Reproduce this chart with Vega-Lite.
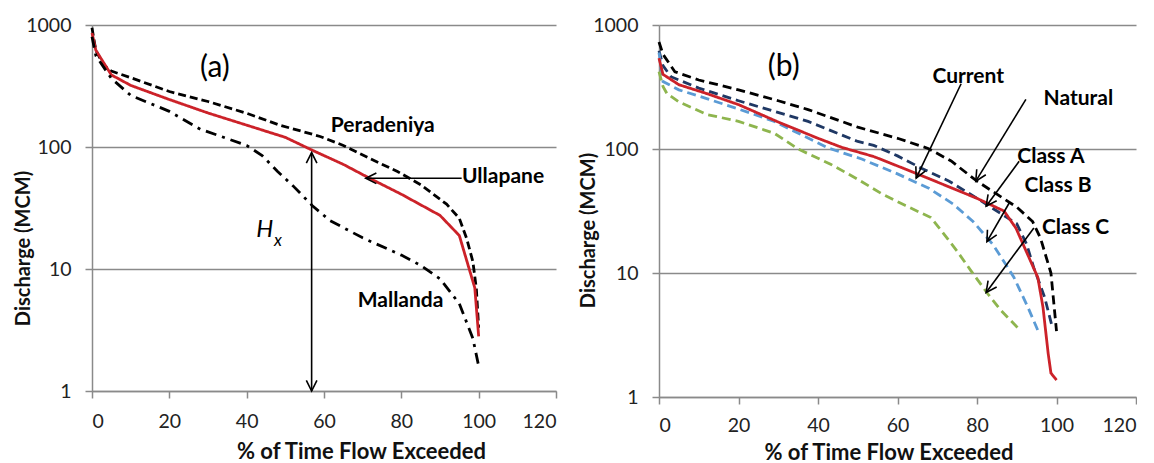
{
  "$schema": "https://vega.github.io/schema/vega-lite/v6.json",
  "padding": {"left": 13, "top": 15, "right": 0, "bottom": 0},
  "config": {
    "font": "Lato",
    "view": {"stroke": null},
    "concat": {"spacing": 21},
    "axis": {
      "domainColor": "#8a8a8a", "domainWidth": 1.5,
      "tickColor": "#8a8a8a", "tickWidth": 1.5, "tickSize": 7,
      "labelFont": "Lato", "labelFontSize": 19.5, "labelColor": "#222222", "labelPadding": 14,
      "titleFont": "Lato", "titleFontSize": 20, "titleFontWeight": "bold", "titleColor": "#111111"
    },
    "axisX": {"grid": false, "titleFontSize": 22},
    "axisY": {"grid": true, "gridColor": "#8a8a8a", "gridWidth": 1.5}
  },
  "resolve": {"scale": {"x": "independent", "y": "independent", "color": "independent", "strokeDash": "independent"}},
  "datasets": {
    "a_lines": [
      {"site": "Peradeniya", "pct": 0, "q": 950}, {"site": "Peradeniya", "pct": 0.5, "q": 760}, {"site": "Peradeniya", "pct": 1, "q": 620},
      {"site": "Peradeniya", "pct": 3, "q": 470}, {"site": "Peradeniya", "pct": 5, "q": 419}, {"site": "Peradeniya", "pct": 10, "q": 370},
      {"site": "Peradeniya", "pct": 20, "q": 285}, {"site": "Peradeniya", "pct": 30, "q": 236}, {"site": "Peradeniya", "pct": 40, "q": 189},
      {"site": "Peradeniya", "pct": 48.6, "q": 151}, {"site": "Peradeniya", "pct": 59, "q": 122}, {"site": "Peradeniya", "pct": 65, "q": 103},
      {"site": "Peradeniya", "pct": 72, "q": 80}, {"site": "Peradeniya", "pct": 79, "q": 63}, {"site": "Peradeniya", "pct": 85, "q": 49},
      {"site": "Peradeniya", "pct": 91.7, "q": 34}, {"site": "Peradeniya", "pct": 95, "q": 26}, {"site": "Peradeniya", "pct": 96.9, "q": 17.8},
      {"site": "Peradeniya", "pct": 98.5, "q": 11.5}, {"site": "Peradeniya", "pct": 99.4, "q": 6.9}, {"site": "Peradeniya", "pct": 100, "q": 3.3},
      {"site": "Ullapane", "pct": 0, "q": 860}, {"site": "Ullapane", "pct": 1, "q": 620}, {"site": "Ullapane", "pct": 5, "q": 390},
      {"site": "Ullapane", "pct": 10, "q": 320}, {"site": "Ullapane", "pct": 20, "q": 245}, {"site": "Ullapane", "pct": 30, "q": 190},
      {"site": "Ullapane", "pct": 40, "q": 151}, {"site": "Ullapane", "pct": 50, "q": 120}, {"site": "Ullapane", "pct": 57, "q": 94},
      {"site": "Ullapane", "pct": 65, "q": 72}, {"site": "Ullapane", "pct": 72, "q": 55}, {"site": "Ullapane", "pct": 80, "q": 41},
      {"site": "Ullapane", "pct": 90, "q": 27.5}, {"site": "Ullapane", "pct": 95, "q": 18.8}, {"site": "Ullapane", "pct": 99, "q": 7},
      {"site": "Ullapane", "pct": 100, "q": 2.8},
      {"site": "Mallanda", "pct": 0, "q": 800}, {"site": "Mallanda", "pct": 1, "q": 560}, {"site": "Mallanda", "pct": 5, "q": 365},
      {"site": "Mallanda", "pct": 10, "q": 265}, {"site": "Mallanda", "pct": 20, "q": 196}, {"site": "Mallanda", "pct": 28, "q": 140},
      {"site": "Mallanda", "pct": 40, "q": 103}, {"site": "Mallanda", "pct": 44, "q": 85}, {"site": "Mallanda", "pct": 48, "q": 63},
      {"site": "Mallanda", "pct": 52, "q": 48}, {"site": "Mallanda", "pct": 57, "q": 33}, {"site": "Mallanda", "pct": 61.5, "q": 25},
      {"site": "Mallanda", "pct": 70, "q": 18}, {"site": "Mallanda", "pct": 80, "q": 13}, {"site": "Mallanda", "pct": 85, "q": 10.7},
      {"site": "Mallanda", "pct": 90, "q": 8.3}, {"site": "Mallanda", "pct": 95, "q": 5.2}, {"site": "Mallanda", "pct": 98.5, "q": 2.7},
      {"site": "Mallanda", "pct": 100, "q": 1.6}
    ],
    "a_text": [
      {"kind": "name", "label": "Peradeniya", "pct": 75.2, "q": 148},
      {"kind": "name", "label": "Ullapane", "pct": 106.3, "q": 56.4},
      {"kind": "name", "label": "Mallanda", "pct": 79.8, "q": 5.5},
      {"kind": "tag", "label": "(a)", "pct": 31.8, "q": 444},
      {"kind": "H", "label": "H", "pct": 44.7, "q": 20.7},
      {"kind": "sub", "label": "x", "pct": 48.1, "q": 17.1}
    ],
    "a_rules": [
      {"name": "Ullapane", "pct": 70.8, "q": 55.4, "pct2": 95.6, "q2": 55.4},
      {"name": "Hx", "pct": 56.8, "q": 90, "pct2": 56.8, "q2": 1}
    ],
    "a_heads": [
      {"name": "Ullapane", "pct": 70.8, "q": 55.4},
      {"name": "Hx top", "pct": 56.8, "q": 90},
      {"name": "Hx bottom", "pct": 56.8, "q": 1}
    ],
    "b_lines": [
      {"scenario": "Natural", "pct": 0, "q": 730}, {"scenario": "Natural", "pct": 1, "q": 580}, {"scenario": "Natural", "pct": 4, "q": 420},
      {"scenario": "Natural", "pct": 10, "q": 360}, {"scenario": "Natural", "pct": 20, "q": 300}, {"scenario": "Natural", "pct": 30, "q": 245},
      {"scenario": "Natural", "pct": 37.5, "q": 208}, {"scenario": "Natural", "pct": 50, "q": 150}, {"scenario": "Natural", "pct": 60, "q": 122},
      {"scenario": "Natural", "pct": 67.7, "q": 101}, {"scenario": "Natural", "pct": 73.5, "q": 80}, {"scenario": "Natural", "pct": 80, "q": 55},
      {"scenario": "Natural", "pct": 90, "q": 34}, {"scenario": "Natural", "pct": 94, "q": 26}, {"scenario": "Natural", "pct": 96, "q": 19},
      {"scenario": "Natural", "pct": 98.6, "q": 10}, {"scenario": "Natural", "pct": 100, "q": 3.4},
      {"scenario": "Class A", "pct": 0, "q": 620}, {"scenario": "Class A", "pct": 1, "q": 470}, {"scenario": "Class A", "pct": 3, "q": 383},
      {"scenario": "Class A", "pct": 10, "q": 310}, {"scenario": "Class A", "pct": 20, "q": 245}, {"scenario": "Class A", "pct": 37.5, "q": 167},
      {"scenario": "Class A", "pct": 50, "q": 115}, {"scenario": "Class A", "pct": 54, "q": 107}, {"scenario": "Class A", "pct": 60, "q": 88},
      {"scenario": "Class A", "pct": 66, "q": 70}, {"scenario": "Class A", "pct": 73, "q": 55}, {"scenario": "Class A", "pct": 80, "q": 40},
      {"scenario": "Class A", "pct": 90, "q": 25}, {"scenario": "Class A", "pct": 92.5, "q": 17}, {"scenario": "Class A", "pct": 94.3, "q": 11},
      {"scenario": "Class A", "pct": 97, "q": 6.4}, {"scenario": "Class A", "pct": 99, "q": 3.6},
      {"scenario": "Class B", "pct": 0, "q": 600}, {"scenario": "Class B", "pct": 1, "q": 350}, {"scenario": "Class B", "pct": 5, "q": 300},
      {"scenario": "Class B", "pct": 12, "q": 255}, {"scenario": "Class B", "pct": 20, "q": 210}, {"scenario": "Class B", "pct": 29, "q": 167},
      {"scenario": "Class B", "pct": 42.5, "q": 102}, {"scenario": "Class B", "pct": 51, "q": 83}, {"scenario": "Class B", "pct": 60, "q": 63},
      {"scenario": "Class B", "pct": 68, "q": 48}, {"scenario": "Class B", "pct": 74, "q": 36}, {"scenario": "Class B", "pct": 79, "q": 26},
      {"scenario": "Class B", "pct": 84, "q": 17}, {"scenario": "Class B", "pct": 87.8, "q": 11}, {"scenario": "Class B", "pct": 89.3, "q": 9.2},
      {"scenario": "Class B", "pct": 92.8, "q": 5.3}, {"scenario": "Class B", "pct": 95.3, "q": 3.45},
      {"scenario": "Class C", "pct": 0, "q": 420}, {"scenario": "Class C", "pct": 1, "q": 320}, {"scenario": "Class C", "pct": 2, "q": 280},
      {"scenario": "Class C", "pct": 5, "q": 240}, {"scenario": "Class C", "pct": 12, "q": 190}, {"scenario": "Class C", "pct": 20, "q": 167},
      {"scenario": "Class C", "pct": 29, "q": 134}, {"scenario": "Class C", "pct": 35, "q": 100}, {"scenario": "Class C", "pct": 43.3, "q": 75},
      {"scenario": "Class C", "pct": 50, "q": 57}, {"scenario": "Class C", "pct": 55.8, "q": 44}, {"scenario": "Class C", "pct": 62, "q": 35},
      {"scenario": "Class C", "pct": 68.4, "q": 28}, {"scenario": "Class C", "pct": 71, "q": 22}, {"scenario": "Class C", "pct": 75, "q": 15},
      {"scenario": "Class C", "pct": 78.5, "q": 10.4}, {"scenario": "Class C", "pct": 82.7, "q": 6.8}, {"scenario": "Class C", "pct": 86, "q": 5},
      {"scenario": "Class C", "pct": 90.3, "q": 3.6},
      {"scenario": "Current", "pct": 0, "q": 540}, {"scenario": "Current", "pct": 1, "q": 400}, {"scenario": "Current", "pct": 5, "q": 330},
      {"scenario": "Current", "pct": 12, "q": 280}, {"scenario": "Current", "pct": 20, "q": 228}, {"scenario": "Current", "pct": 30, "q": 165},
      {"scenario": "Current", "pct": 40, "q": 122}, {"scenario": "Current", "pct": 46, "q": 103}, {"scenario": "Current", "pct": 54, "q": 87},
      {"scenario": "Current", "pct": 65, "q": 63}, {"scenario": "Current", "pct": 80, "q": 40}, {"scenario": "Current", "pct": 86.8, "q": 31.6},
      {"scenario": "Current", "pct": 89.8, "q": 23}, {"scenario": "Current", "pct": 95.3, "q": 9.2}, {"scenario": "Current", "pct": 96.6, "q": 5.3},
      {"scenario": "Current", "pct": 97.9, "q": 2.25}, {"scenario": "Current", "pct": 98.6, "q": 1.56}, {"scenario": "Current", "pct": 100, "q": 1.37}
    ],
    "b_text": [
      {"kind": "tag", "label": "(b)", "pct": 31.4, "q": 460},
      {"kind": "name", "label": "Current", "pct": 77.8, "q": 383},
      {"kind": "name", "label": "Natural", "pct": 105.5, "q": 255},
      {"kind": "name", "label": "Class A", "pct": 98.6, "q": 85.8},
      {"kind": "name", "label": "Class B", "pct": 100.4, "q": 50.2},
      {"kind": "name", "label": "Class C", "pct": 104.8, "q": 23.1}
    ],
    "b_rules": [
      {"name": "Current", "pct": 64.7, "q": 58.2, "pct2": 76.0, "q2": 336},
      {"name": "Natural", "pct": 79.7, "q": 55.1, "pct2": 92.3, "q2": 251},
      {"name": "Class A", "pct": 82.3, "q": 34.6, "pct2": 90.6, "q2": 79.6},
      {"name": "Class B", "pct": 82.5, "q": 17.9, "pct2": 88.1, "q2": 36.7},
      {"name": "Class C", "pct": 82.3, "q": 6.97, "pct2": 94.3, "q2": 23.1}
    ]
  },
  "hconcat": [
    {
      "width": 464,
      "height": 366,
      "encoding": {
        "x": {"field": "pct", "type": "quantitative", "scale": {"domain": [0, 120], "nice": false},
              "axis": {"values": [0, 20, 40, 60, 80, 100, 120], "title": "% of Time Flow Exceeded", "titleX": 269, "titleY": 60, "titleBaseline": "middle"}},
        "y": {"field": "q", "type": "quantitative", "scale": {"type": "log", "domain": [1, 1000], "nice": false},
              "axis": {"values": [1, 10, 100, 1000], "format": "d", "title": "Discharge (MCM)", "titleX": -69, "titleY": 223, "titleBaseline": "middle"}}
      },
      "layer": [
        {
          "data": {"name": "a_lines"},
          "mark": {"type": "line", "strokeWidth": 2.8},
          "encoding": {
            "color": {"field": "site", "type": "nominal", "legend": null,
                      "scale": {"domain": ["Peradeniya", "Ullapane", "Mallanda"], "range": ["#000000", "#CC2229", "#000000"]}},
            "strokeDash": {"field": "site", "type": "nominal", "legend": null,
                      "scale": {"domain": ["Peradeniya", "Ullapane", "Mallanda"], "range": [[8, 4], [1, 0], [11, 6, 3, 6]]}}
          }
        },
        {
          "data": {"name": "a_rules"},
          "mark": {"type": "rule", "color": "#000000", "strokeWidth": 1.6},
          "encoding": {"x2": {"field": "pct2"}, "y2": {"field": "q2"}}
        },
        {
          "data": {"name": "a_heads"},
          "transform": [{"filter": "datum.name === 'Ullapane'"}],
          "mark": {"type": "point", "shape": "M-0.5,1L0,0L0.5,1", "filled": false, "size": 450, "strokeWidth": 1.6, "color": "#000000", "opacity": 1, "angle": 270},
          "encoding": {}
        },
        {
          "data": {"name": "a_heads"},
          "transform": [{"filter": "datum.name === 'Hx top'"}],
          "mark": {"type": "point", "shape": "M-0.5,1L0,0L0.5,1", "filled": false, "size": 450, "strokeWidth": 1.6, "color": "#000000", "opacity": 1, "angle": 0},
          "encoding": {}
        },
        {
          "data": {"name": "a_heads"},
          "transform": [{"filter": "datum.name === 'Hx bottom'"}],
          "mark": {"type": "point", "shape": "M-0.5,1L0,0L0.5,1", "filled": false, "size": 450, "strokeWidth": 1.6, "color": "#000000", "opacity": 1, "angle": 180},
          "encoding": {}
        },
        {
          "data": {"name": "a_text"},
          "transform": [{"filter": "datum.kind === 'name'"}],
          "mark": {"type": "text", "font": "Lato", "fontWeight": "bold", "fontSize": 21, "align": "center", "baseline": "middle", "color": "#000000"},
          "encoding": {"text": {"field": "label"}}
        },
        {
          "data": {"name": "a_text"},
          "transform": [{"filter": "datum.kind === 'tag'"}],
          "mark": {"type": "text", "font": "Lato", "fontSize": 30, "align": "center", "baseline": "middle", "color": "#000000"},
          "encoding": {"text": {"field": "label"}}
        },
        {
          "data": {"name": "a_text"},
          "transform": [{"filter": "datum.kind === 'H'"}],
          "mark": {"type": "text", "font": "Lato", "fontStyle": "italic", "fontSize": 24, "align": "center", "baseline": "middle", "color": "#000000"},
          "encoding": {"text": {"field": "label"}}
        },
        {
          "data": {"name": "a_text"},
          "transform": [{"filter": "datum.kind === 'sub'"}],
          "mark": {"type": "text", "font": "Lato", "fontStyle": "italic", "fontSize": 17, "align": "center", "baseline": "middle", "color": "#000000"},
          "encoding": {"text": {"field": "label"}}
        }
      ]
    },
    {
      "width": 477,
      "height": 372,
      "encoding": {
        "x": {"field": "pct", "type": "quantitative", "scale": {"domain": [0, 120], "nice": false},
              "axis": {"values": [0, 20, 40, 60, 80, 100, 120], "labelPadding": 12, "title": "% of Time Flow Exceeded", "titleX": 229.5, "titleY": 55, "titleBaseline": "middle"}},
        "y": {"field": "q", "type": "quantitative", "scale": {"type": "log", "domain": [1, 1000], "nice": false},
              "axis": {"values": [1, 10, 100, 1000], "format": "d", "title": "Discharge (MCM)", "titleX": -71, "titleY": 205, "titleBaseline": "middle"}}
      },
      "layer": [
        {
          "data": {"name": "b_lines"},
          "mark": {"type": "line", "strokeWidth": 2.8},
          "encoding": {
            "color": {"field": "scenario", "type": "nominal", "legend": null,
                      "scale": {"domain": ["Natural", "Class A", "Class B", "Class C", "Current"], "range": ["#000000", "#1F3864", "#5B9BD5", "#8EB54E", "#CC2229"]}},
            "strokeDash": {"field": "scenario", "type": "nominal", "legend": null,
                      "scale": {"domain": ["Natural", "Class A", "Class B", "Class C", "Current"], "range": [[9, 5], [9, 5], [9, 5], [9, 5], [1, 0]]}}
          }
        },
        {
          "data": {"name": "b_rules"},
          "mark": {"type": "rule", "color": "#000000", "strokeWidth": 1.6},
          "encoding": {"x2": {"field": "pct2"}, "y2": {"field": "q2"}}
        },
        {
          "data": {"name": "b_rules"},
          "transform": [{"filter": "datum.name === 'Current'"}],
          "mark": {"type": "point", "shape": "M-0.5,1L0,0L0.5,1", "filled": false, "size": 450, "strokeWidth": 1.6, "color": "#000000", "opacity": 1, "angle": 205},
          "encoding": {}
        },
        {
          "data": {"name": "b_rules"},
          "transform": [{"filter": "datum.name === 'Natural'"}],
          "mark": {"type": "point", "shape": "M-0.5,1L0,0L0.5,1", "filled": false, "size": 450, "strokeWidth": 1.6, "color": "#000000", "opacity": 1, "angle": 211},
          "encoding": {}
        },
        {
          "data": {"name": "b_rules"},
          "transform": [{"filter": "datum.name === 'Class A'"}],
          "mark": {"type": "point", "shape": "M-0.5,1L0,0L0.5,1", "filled": false, "size": 450, "strokeWidth": 1.6, "color": "#000000", "opacity": 1, "angle": 216},
          "encoding": {}
        },
        {
          "data": {"name": "b_rules"},
          "transform": [{"filter": "datum.name === 'Class B'"}],
          "mark": {"type": "point", "shape": "M-0.5,1L0,0L0.5,1", "filled": false, "size": 450, "strokeWidth": 1.6, "color": "#000000", "opacity": 1, "angle": 209},
          "encoding": {}
        },
        {
          "data": {"name": "b_rules"},
          "transform": [{"filter": "datum.name === 'Class C'"}],
          "mark": {"type": "point", "shape": "M-0.5,1L0,0L0.5,1", "filled": false, "size": 450, "strokeWidth": 1.6, "color": "#000000", "opacity": 1, "angle": 216},
          "encoding": {}
        },
        {
          "data": {"name": "b_text"},
          "transform": [{"filter": "datum.kind === 'name'"}],
          "mark": {"type": "text", "font": "Lato", "fontWeight": "bold", "fontSize": 21, "align": "center", "baseline": "middle", "color": "#000000"},
          "encoding": {"text": {"field": "label"}}
        },
        {
          "data": {"name": "b_text"},
          "transform": [{"filter": "datum.kind === 'tag'"}],
          "mark": {"type": "text", "font": "Lato", "fontSize": 30, "align": "center", "baseline": "middle", "color": "#000000"},
          "encoding": {"text": {"field": "label"}}
        }
      ]
    }
  ]
}
